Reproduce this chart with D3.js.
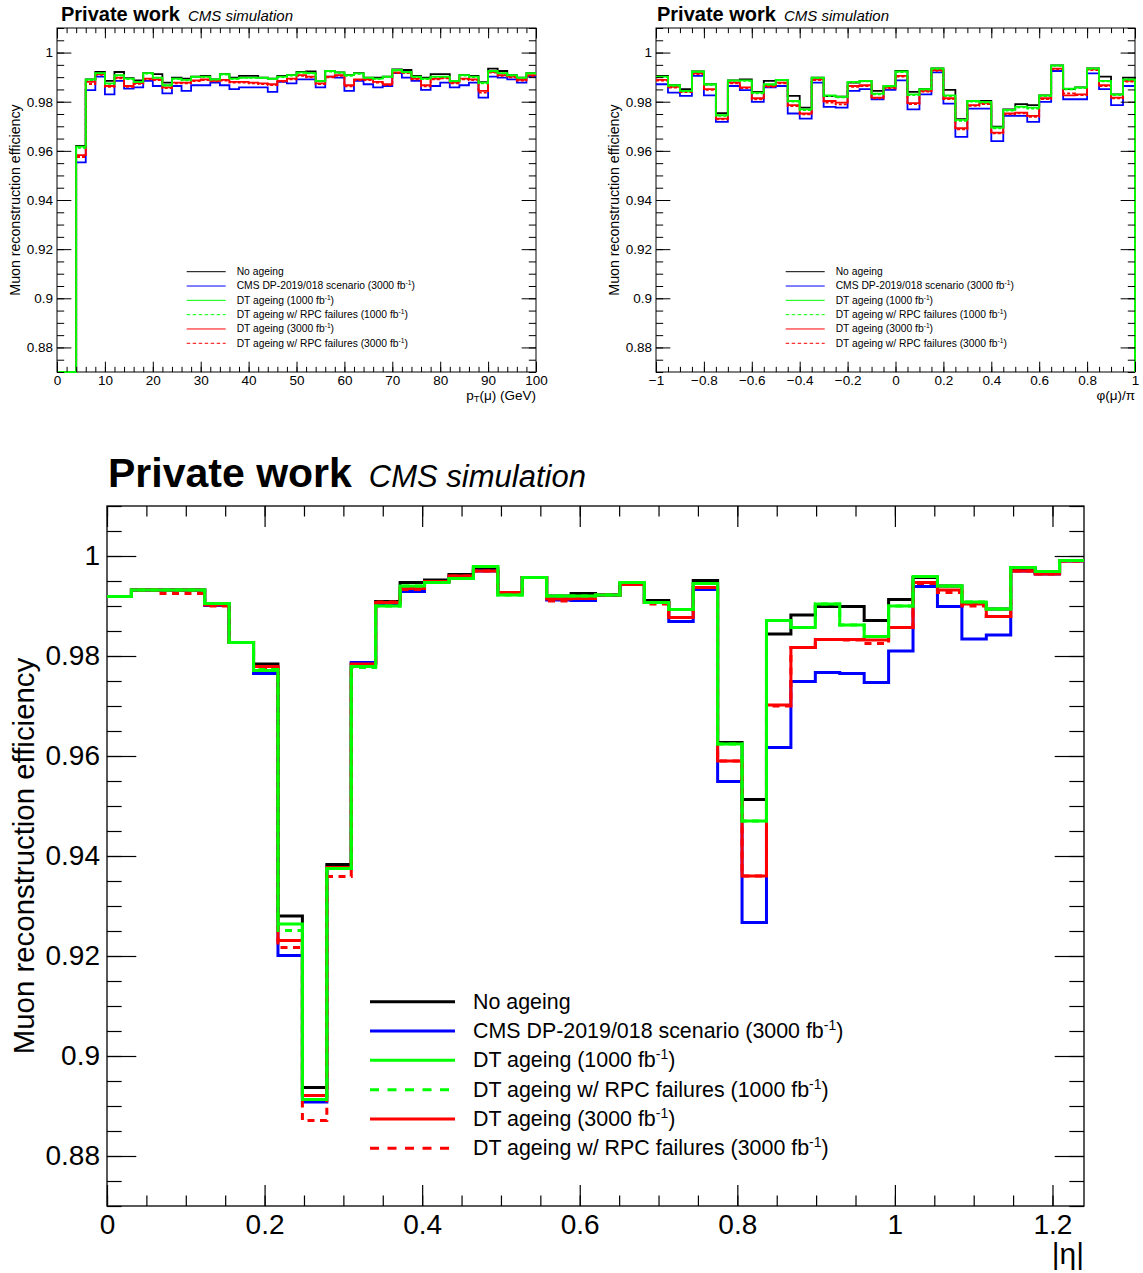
<!DOCTYPE html>
<html>
<head>
<meta charset="utf-8">
<script src="https://cdn.jsdelivr.net/npm/d3@7"></script>
<style>
  body { margin: 0; background: #fff; }
  svg { display: block; }
  text { font-family: "Liberation Sans", Arial, Helvetica, sans-serif; }
</style>
</head>
<body>
<svg width="1143" height="1273"></svg>
<script>
// ---- binning (uniform histograms) ----
const ptEdges = d3.range(51).map(i => i * 2);          // 0..100 GeV, 2 GeV bins
const phiEdges = d3.range(41).map(i => -1 + i * 0.05); // -1..1, phi/pi
const etaEdges = d3.range(41).map(i => i * 0.031);     // 0..1.24, |eta|

// ---- efficiency vs pT ----
const ptNoAgeing = [0, 0, .9620, .9891, .9921, .9885, .9921, .9896, .9887, .9916,
  .9912, .9878, .9898, .9894, .9902, .9905, .9891, .9912, .9898, .9905,
  .9905, .9898, .9894, .9905, .9908, .9921, .9923, .9885, .9925, .9919,
  .9908, .9916, .9898, .9898, .9902, .9932, .9929, .9905, .9898, .9912,
  .9912, .9885, .9908, .9905, .9880, .9935, .9925, .9908, .9898, .9916];
const ptCmsDP = [0, 0, .9553, .9847, .9902, .9830, .9885, .9853, .9858, .9885,
  .9864, .9834, .9864, .9844, .9867, .9867, .9878, .9867, .9851, .9858,
  .9858, .9858, .9840, .9881, .9875, .9891, .9891, .9858, .9902, .9898,
  .9844, .9885, .9871, .9858, .9864, .9916, .9898, .9885, .9848, .9864,
  .9878, .9858, .9867, .9878, .9817, .9902, .9898, .9891, .9878, .9902];
const ptDT1000 = [0, 0, .9617, .9891, .9916, .9875, .9908, .9894, .9881, .9916,
  .9898, .9867, .9894, .9889, .9902, .9902, .9891, .9912, .9894, .9898,
  .9898, .9898, .9894, .9902, .9908, .9919, .9916, .9885, .9925, .9919,
  .9908, .9915, .9898, .9894, .9902, .9929, .9921, .9902, .9894, .9902,
  .9902, .9885, .9908, .9902, .9878, .9925, .9916, .9908, .9898, .9916];
const ptDT1000RPC = [0, 0, .9612, .9888, .9915, .9873, .9906, .9892, .9880, .9914,
  .9897, .9866, .9893, .9887, .9900, .9900, .9890, .9910, .9893, .9897,
  .9897, .9896, .9892, .9900, .9906, .9917, .9915, .9883, .9923, .9917,
  .9905, .9913, .9897, .9893, .9900, .9927, .9920, .9900, .9892, .9901,
  .9900, .9883, .9906, .9900, .9875, .9923, .9915, .9906, .9897, .9914];
const ptDT3000 = [0, 0, .9583, .9881, .9912, .9864, .9898, .9864, .9876, .9894,
  .9891, .9858, .9878, .9878, .9887, .9891, .9885, .9889, .9881, .9881,
  .9878, .9875, .9871, .9885, .9894, .9908, .9902, .9875, .9902, .9908,
  .9867, .9891, .9891, .9881, .9871, .9919, .9919, .9894, .9867, .9894,
  .9898, .9878, .9894, .9891, .9844, .9921, .9908, .9902, .9889, .9908];
const ptDT3000RPC = [0, 0, .9575, .9872, .9909, .9860, .9895, .9861, .9873, .9891,
  .9888, .9855, .9875, .9875, .9884, .9888, .9883, .9886, .9878, .9878,
  .9875, .9872, .9868, .9882, .9891, .9905, .9899, .9872, .9899, .9905,
  .9863, .9888, .9888, .9878, .9868, .9916, .9916, .9891, .9863, .9891,
  .9895, .9875, .9891, .9888, .9837, .9918, .9905, .9899, .9886, .9905];

// ---- efficiency vs phi ----
const phiNoAgeing = [.9905, .9867, .9851, .9923, .9871, .9753, .9887, .9891, .9840, .9885,
  .9889, .9824, .9776, .9898, .9823, .9821, .9878, .9885, .9844, .9864,
  .9925, .9840, .9851, .9936, .9848, .9729, .9803, .9803, .9699, .9769,
  .9790, .9786, .9826, .9948, .9851, .9858, .9936, .9902, .9830, .9898];
const phiCmsDP = [.9871, .9837, .9824, .9905, .9826, .9718, .9864, .9847, .9799, .9858,
  .9864, .9752, .9731, .9878, .9779, .9776, .9844, .9851, .9810, .9848,
  .9887, .9769, .9830, .9919, .9792, .9657, .9772, .9772, .9640, .9742,
  .9742, .9718, .9799, .9925, .9810, .9810, .9915, .9851, .9786, .9864];
const phiDT1000 = [.9902, .9867, .9844, .9923, .9871, .9745, .9887, .9887, .9837, .9871,
  .9889, .9803, .9769, .9898, .9826, .9821, .9881, .9885, .9833, .9864,
  .9923, .9830, .9851, .9936, .9826, .9726, .9803, .9799, .9695, .9767,
  .9780, .9776, .9826, .9948, .9853, .9858, .9936, .9885, .9830, .9891];
const phiDT1000RPC = [.9900, .9865, .9842, .9921, .9869, .9742, .9885, .9885, .9834, .9869,
  .9887, .9800, .9766, .9896, .9823, .9818, .9879, .9883, .9830, .9862,
  .9921, .9827, .9849, .9934, .9823, .9722, .9800, .9796, .9692, .9764,
  .9777, .9772, .9823, .9946, .9850, .9855, .9934, .9883, .9827, .9889];
const phiDT3000 = [.9889, .9860, .9842, .9915, .9851, .9731, .9878, .9858, .9814, .9864,
  .9878, .9786, .9752, .9891, .9803, .9796, .9864, .9867, .9817, .9857,
  .9905, .9794, .9844, .9929, .9814, .9692, .9786, .9793, .9674, .9752,
  .9756, .9742, .9814, .9935, .9826, .9830, .9932, .9867, .9817, .9885];
const phiDT3000RPC = [.9886, .9857, .9839, .9912, .9848, .9728, .9875, .9855, .9810, .9861,
  .9875, .9782, .9749, .9888, .9796, .9789, .9861, .9864, .9814, .9854,
  .9902, .9790, .9841, .9926, .9811, .9688, .9783, .9790, .9671, .9749,
  .9753, .9738, .9811, .9932, .9834, .9827, .9929, .9864, .9814, .9882];

// ---- efficiency vs |eta| ----
const etaNoAgeing = [.9919, .9932, .9932, .9932, .9905, .9827, .9784, .9280, .8937, .9383,
  .9785, .9909, .9947, .9952, .9963, .9975, .9927, .9957, .9920, .9925,
  .9922, .9945, .9911, .9893, .9951, .9627, .9513, .9844, .9882, .9899,
  .9899, .9871, .9913, .9957, .9940, .9905, .9894, .9975, .9967, .9991];
const etaCmsDP = [.9919, .9932, .9932, .9932, .9901, .9827, .9765, .9201, .8908, .9377,
  .9787, .9905, .9929, .9948, .9958, .9970, .9927, .9957, .9912, .9911,
  .9922, .9943, .9907, .9869, .9933, .9549, .9267, .9617, .9749, .9767,
  .9765, .9747, .9810, .9939, .9899, .9834, .9842, .9970, .9964, .9990];
const etaDT1000 = [.9919, .9932, .9932, .9932, .9905, .9827, .9771, .9264, .8913, .9375,
  .9779, .9900, .9940, .9947, .9955, .9979, .9922, .9957, .9920, .9920,
  .9922, .9947, .9907, .9893, .9945, .9624, .9470, .9871, .9857, .9904,
  .9862, .9839, .9900, .9959, .9940, .9908, .9894, .9977, .9969, .9991];
const etaDT1000RPC = [.9919, .9932, .9932, .9932, .9905, .9827, .9773, .9251, .8913, .9375,
  .9777, .9900, .9940, .9947, .9955, .9979, .9922, .9957, .9920, .9920,
  .9922, .9947, .9907, .9893, .9945, .9624, .9470, .9871, .9857, .9904,
  .9862, .9839, .9900, .9959, .9940, .9908, .9894, .9977, .9969, .9991];
const etaDT3000 = [.9919, .9932, .9932, .9932, .9902, .9827, .9779, .9231, .8921, .9377,
  .9784, .9907, .9935, .9949, .9960, .9970, .9927, .9957, .9914, .9915,
  .9922, .9943, .9907, .9877, .9937, .9590, .9360, .9702, .9817, .9833,
  .9833, .9832, .9857, .9947, .9932, .9904, .9879, .9970, .9964, .9990];
const etaDT3000RPC = [.9919, .9932, .9925, .9925, .9900, .9827, .9776, .9217, .8871, .9359,
  .9782, .9908, .9933, .9949, .9960, .9970, .9927, .9957, .9910, .9915,
  .9922, .9943, .9904, .9877, .9937, .9590, .9360, .9700, .9817, .9833,
  .9832, .9825, .9857, .9945, .9927, .9900, .9879, .9970, .9964, .9990];

// ---- legend entries: [text, superscript, tail] ----
const legendLabels = [
  ["No ageing", "", ""],
  ["CMS DP-2019/018 scenario (3000 fb", "-1", ")"],
  ["DT ageing (1000 fb", "-1", ")"],
  ["DT ageing w/ RPC failures (1000 fb", "-1", ")"],
  ["DT ageing (3000 fb", "-1", ")"],
  ["DT ageing w/ RPC failures (3000 fb", "-1", ")"]
];
const seriesColors = ["#000000", "#0000ff", "#00ff00", "#00ff00", "#ff0000", "#ff0000"];
const seriesDashed = [false, false, false, true, false, true];
const drawOrder = [0, 1, 5, 4, 3, 2];

// ---- tick values ----
const effMajor = [0.88, 0.9, 0.92, 0.94, 0.96, 0.98, 1];
const effMinor = d3.range(0.87, 1.0101, 0.005);
const ptMajor = [0, 10, 20, 30, 40, 50, 60, 70, 80, 90, 100];
const ptMinor = d3.range(0, 100.1, 2);
const phiMajor = [-1, -0.8, -0.6, -0.4, -0.2, 0, 0.2, 0.4, 0.6, 0.8, 1];
const phiMinor = d3.range(-1, 1.001, 0.05);
const etaMajor = [0, 0.2, 0.4, 0.6, 0.8, 1, 1.2];
const etaMinor = d3.range(0, 1.24, 0.05);

const svg = d3.select("svg");
const fmt = d => String(+d.toFixed(3)).replace("-", "\u2212");

function axisStyle(g, fontSize, sw) {
  g.select(".domain").remove();
  g.selectAll("line").attr("stroke", "#000").attr("stroke-width", sw);
  g.selectAll("text").attr("font-size", fontSize)
    .attr("font-family", '"Liberation Sans", Arial, sans-serif').attr("fill", "#000");
  g.attr("font-family", null).attr("font-size", null);
}

function drawPanel(p) {
  const f = p.frame;
  const x = d3.scaleLinear().domain(p.xDomain).range([f.x0, f.x1]);
  const y = d3.scaleLinear().domain([0.87, 1.01]).range([f.y1, f.y0]);
  const g = svg.append("g");
  const xt = 0.03 * (f.y1 - f.y0);   // x-axis tick length
  const yt = 0.03 * (f.x1 - f.x0);   // y-axis tick length

  g.append("rect").attr("x", f.x0).attr("y", f.y0)
    .attr("width", f.x1 - f.x0).attr("height", f.y1 - f.y0)
    .attr("fill", "none").attr("stroke", "#000").attr("stroke-width", p.frameWidth);

  // histograms (outline closed to the baseline only where the reference shows it)
  const line = d3.line().x(d => x(d[0])).y(d => y(Math.max(d[1], 0.87)));
  drawOrder.forEach(k => {
    const vals = p.series[k];
    const pts = [];
    if (p.closeLeft) pts.push([p.edges[0], 0]);
    vals.forEach((v, i) => { pts.push([p.edges[i], v]); pts.push([p.edges[i + 1], v]); });
    if (p.closeRight) pts.push([p.edges[p.edges.length - 1], 0]);
    g.append("path").attr("d", line(pts)).attr("fill", "none")
      .attr("stroke", seriesColors[k]).attr("stroke-width", p.lineWidth)
      .attr("stroke-dasharray", seriesDashed[k] ? p.dash : null);
  });

  // axes: labels on bottom/left, mirrored ticks on top/right
  g.append("g").attr("transform", `translate(0,${f.y1})`)
    .call(d3.axisBottom(x).tickValues(p.xMajor).tickSize(-xt).tickPadding(p.xPad).tickFormat(fmt))
    .call(a => axisStyle(a, p.labelSize, p.tickWidth));
  g.append("g").attr("transform", `translate(0,${f.y1})`)
    .call(d3.axisBottom(x).tickValues(p.xMinor).tickSize(-xt / 2).tickFormat(""))
    .call(a => axisStyle(a, p.labelSize, p.tickWidth));
  g.append("g").attr("transform", `translate(0,${f.y0})`)
    .call(d3.axisTop(x).tickValues(p.xMajor).tickSize(-xt).tickFormat(""))
    .call(a => axisStyle(a, p.labelSize, p.tickWidth));
  g.append("g").attr("transform", `translate(0,${f.y0})`)
    .call(d3.axisTop(x).tickValues(p.xMinor).tickSize(-xt / 2).tickFormat(""))
    .call(a => axisStyle(a, p.labelSize, p.tickWidth));
  g.append("g").attr("transform", `translate(${f.x0},0)`)
    .call(d3.axisLeft(y).tickValues(effMajor).tickSize(-yt).tickPadding(p.yPad).tickFormat(fmt))
    .call(a => axisStyle(a, p.labelSize, p.tickWidth));
  g.append("g").attr("transform", `translate(${f.x0},0)`)
    .call(d3.axisLeft(y).tickValues(effMinor).tickSize(-yt / 2).tickFormat(""))
    .call(a => axisStyle(a, p.labelSize, p.tickWidth));
  g.append("g").attr("transform", `translate(${f.x1},0)`)
    .call(d3.axisRight(y).tickValues(effMajor).tickSize(-yt).tickFormat(""))
    .call(a => axisStyle(a, p.labelSize, p.tickWidth));
  g.append("g").attr("transform", `translate(${f.x1},0)`)
    .call(d3.axisRight(y).tickValues(effMinor).tickSize(-yt / 2).tickFormat(""))
    .call(a => axisStyle(a, p.labelSize, p.tickWidth));

  // titles
  const t = g.append("text").attr("x", p.title.x).attr("y", p.title.y);
  t.append("tspan").attr("font-weight", "bold").attr("font-size", p.title.big).text("Private work");
  t.append("tspan").attr("font-style", "italic").attr("font-size", p.title.small)
    .attr("dx", p.title.gap).text("CMS simulation");

  g.append("text").attr("transform", `translate(${p.yTitle.x},${(f.y0 + f.y1) / 2}) rotate(-90)`)
    .attr("text-anchor", "middle").attr("font-size", p.yTitle.size)
    .text("Muon reconstruction efficiency");

  const xtl = g.append("text").attr("x", f.x1).attr("y", p.xTitle.y)
    .attr("text-anchor", "end").attr("font-size", p.xTitle.size);
  p.xTitle.parts.forEach(part => {
    const s = xtl.append("tspan").text(part[0]);
    if (part[1] === "sub") s.attr("font-size", p.xTitle.size * 0.7).attr("baseline-shift", "-25%");
  });

  // legend
  const L = p.legend;
  legendLabels.forEach((lab, i) => {
    const ly = L.y0 + i * L.dy;
    g.append("line").attr("x1", L.x0).attr("x2", L.x1).attr("y1", ly).attr("y2", ly)
      .attr("stroke", seriesColors[i]).attr("stroke-width", L.width)
      .attr("stroke-dasharray", seriesDashed[i] ? L.dash : null);
    const tx = g.append("text").attr("x", L.tx).attr("y", ly + L.size * 0.33).attr("font-size", L.size);
    tx.append("tspan").text(lab[0]);
    if (lab[1]) {
      tx.append("tspan").attr("font-size", L.size * 0.65).attr("baseline-shift", "60%").text(lab[1]);
      tx.append("tspan").text(lab[2]);
    }
  });
}

const smallLegend = (x0) => ({ x0: x0, x1: x0 + 39, tx: x0 + 50, y0: 271.7, dy: 14.32,
  size: 10.3, width: 1, dash: "3.5,2.5" });

drawPanel({
  frame: { x0: 57, x1: 536, y0: 28, y1: 372 }, xDomain: [0, 100], edges: ptEdges,
  series: [ptNoAgeing, ptCmsDP, ptDT1000, ptDT1000RPC, ptDT3000, ptDT3000RPC],
  closeLeft: true, closeRight: false,
  xMajor: ptMajor, xMinor: ptMinor, labelSize: 13.5, xPad: 3, yPad: 4,
  lineWidth: 1.8, dash: "3,2", tickWidth: 1, frameWidth: 1,
  title: { x: 61, y: 21, big: 20, small: 15, gap: 8 },
  yTitle: { x: 20, size: 14.2 },
  xTitle: { y: 400, size: 13.5, parts: [["p", ""], ["T", "sub"], ["(\u03bc) (GeV)", ""]] },
  legend: smallLegend(186.7)
});

drawPanel({
  frame: { x0: 656, x1: 1135, y0: 28, y1: 372 }, xDomain: [-1, 1], edges: phiEdges,
  series: [phiNoAgeing, phiCmsDP, phiDT1000, phiDT1000RPC, phiDT3000, phiDT3000RPC],
  closeLeft: false, closeRight: true,
  xMajor: phiMajor, xMinor: phiMinor, labelSize: 13.5, xPad: 3, yPad: 4,
  lineWidth: 1.8, dash: "3,2", tickWidth: 1, frameWidth: 1,
  title: { x: 657, y: 21, big: 20, small: 15, gap: 8 },
  yTitle: { x: 619, size: 14.2 },
  xTitle: { y: 400, size: 13.5, parts: [["\u03c6(\u03bc)/\u03c0", ""]] },
  legend: smallLegend(785.7)
});

drawPanel({
  frame: { x0: 107, x1: 1084, y0: 506, y1: 1206 }, xDomain: [0, 1.24], edges: etaEdges,
  series: [etaNoAgeing, etaCmsDP, etaDT1000, etaDT1000RPC, etaDT3000, etaDT3000RPC],
  closeLeft: false, closeRight: false,
  xMajor: etaMajor, xMinor: etaMinor, labelSize: 28, xPad: 8, yPad: 7,
  lineWidth: 3, dash: "7,5.5", tickWidth: 1.2, frameWidth: 1.3,
  title: { x: 108, y: 487, big: 41, small: 31, gap: 17 },
  yTitle: { x: 34, size: 29.4 },
  xTitle: { y: 1264, size: 30, parts: [["|\u03b7|", ""]] },
  legend: { x0: 370, x1: 455, tx: 473, y0: 1001.7, dy: 29.32, size: 21.4, width: 3, dash: "9,8.5" }
});
</script>
</body>
</html>
